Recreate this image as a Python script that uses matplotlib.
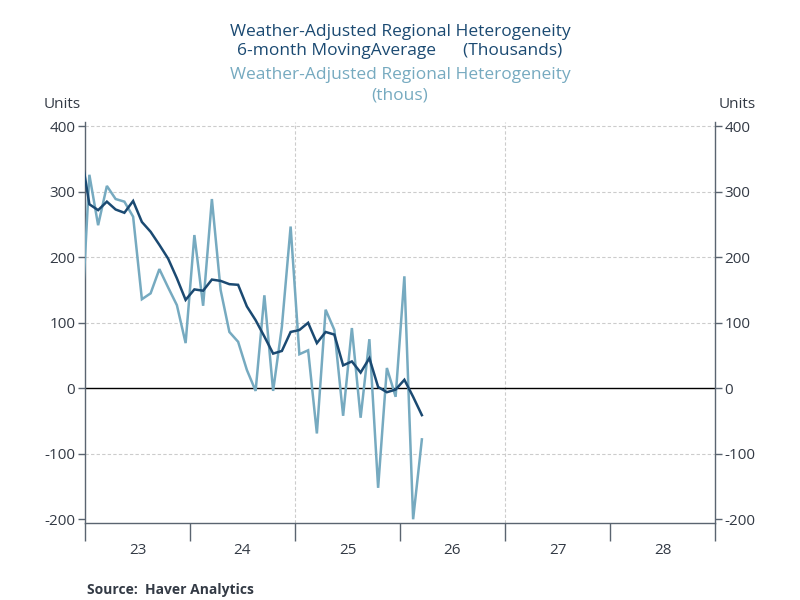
import matplotlib
matplotlib.use("Agg")
import matplotlib.pyplot as plt
import numpy as np

# Monthly data, Dec 2022 .. Mar 2026
months = ["2022-12",
          "2023-01","2023-02","2023-03","2023-04","2023-05","2023-06",
          "2023-07","2023-08","2023-09","2023-10","2023-11","2023-12",
          "2024-01","2024-02","2024-03","2024-04","2024-05","2024-06",
          "2024-07","2024-08","2024-09","2024-10","2024-11","2024-12",
          "2025-01","2025-02","2025-03","2025-04","2025-05","2025-06",
          "2025-07","2025-08","2025-09","2025-10","2025-11","2025-12",
          "2026-01","2026-02","2026-03"]

moving_avg = [363,
              281, 272, 285, 273, 268, 286, 254, 239, 219, 198, 168, 135,
              151, 149, 166, 164, 159, 158, 125, 104, 79, 53, 57, 86,
              89, 100, 69, 86, 82, 35, 41, 24, 46, 2, -6, -2,
              13, -13, -41]

monthly = [74,
           326, 249, 309, 289, 285, 262, 136, 145, 182, 154, 127, 69,
           234, 126, 289, 150, 86, 71, 28, -4, 142, -4, 94, 247,
           52, 58, -69, 120, 89, -42, 92, -45, 75, -152, 31, -13,
           171, -200, -78]

year_labels = ["23", "24", "25", "26", "27", "28"]
start_year = 2023

def month_pos(s):
    y, m = s.split("-")
    return (int(y) - start_year) * 12 + (int(m) - 1) + 0.5

x = np.array([month_pos(m) for m in months])

dark = "#1b4a72"
light = "#76aac0"
txt = "#333a45"
spine_c = "#5a6470"

plt.rcParams['font.family'] = ['Open Sans', 'DejaVu Sans']

fig = plt.figure(figsize=(8, 6), dpi=100)
ax = fig.add_axes([0.10625, 0.128, 0.7875, 0.668])

ax.plot(x, monthly, color=light, lw=1.8, zorder=3, solid_joinstyle='miter')
ax.plot(x, moving_avg, color=dark, lw=1.8, zorder=4, solid_joinstyle='miter')

ax.set_xlim(0, 72)
ax.set_ylim(-206, 406)

ax.axhline(0, color="black", lw=1.0, zorder=2)

yt = [-200, -100, 0, 100, 200, 300, 400]
ax.set_yticks(yt)
ax.set_yticklabels([str(v) for v in yt])
for v in yt:
    if v not in (0, -200):
        ax.axhline(v, color="#cccccc", lw=0.8, ls=(0, (3, 2)), zorder=1)
for xv in [24, 48]:
    ax.axvline(xv, color="#cccccc", lw=0.8, ls=(0, (3, 2)), zorder=1)

ax.set_xticks(np.arange(0, 73, 12))
ax.set_xticklabels([])
ax.set_xticks(np.arange(6, 72, 12), minor=True)
ax.set_xticklabels(year_labels, minor=True)
ax.tick_params(axis='x', which='major', direction='out', length=13, width=1, color=spine_c)
ax.tick_params(axis='x', which='minor', length=0, labelsize=11, labelcolor=txt, pad=14)
ax.tick_params(axis='y', which='both', direction='out', length=5, width=1, color=spine_c,
               labelsize=11, labelcolor=txt, left=True, right=True, labelleft=True, labelright=True, pad=2)

for s in ['left', 'right', 'bottom']:
    ax.spines[s].set_color(spine_c)
    ax.spines[s].set_linewidth(1.0)
ax.spines['top'].set_visible(False)

fig.text(62/800, 1-105/600, "Units", ha='center', va='center', fontsize=11, color=txt)
fig.text(737/800, 1-105/600, "Units", ha='center', va='center', fontsize=11, color=txt)

fig.text(0.5, 1-32/600, "Weather-Adjusted Regional Heterogeneity", ha='center', va='center',
         fontsize=12.5, color=dark)
fig.text(0.5, 1-51/600, "6-month MovingAverage      (Thousands)", ha='center', va='center',
         fontsize=12.5, color=dark)
fig.text(0.5, 1-75/600, "Weather-Adjusted Regional Heterogeneity", ha='center', va='center',
         fontsize=12.5, color=light)
fig.text(0.5, 1-96/600, "(thous)", ha='center', va='center',
         fontsize=12.5, color=light)

fig.text(87/800, 1-590/600, "Source:  Haver Analytics", ha='left', va='center',
         fontsize=10, fontweight='bold', color=txt)

fig.savefig("out.png", dpi=100)
